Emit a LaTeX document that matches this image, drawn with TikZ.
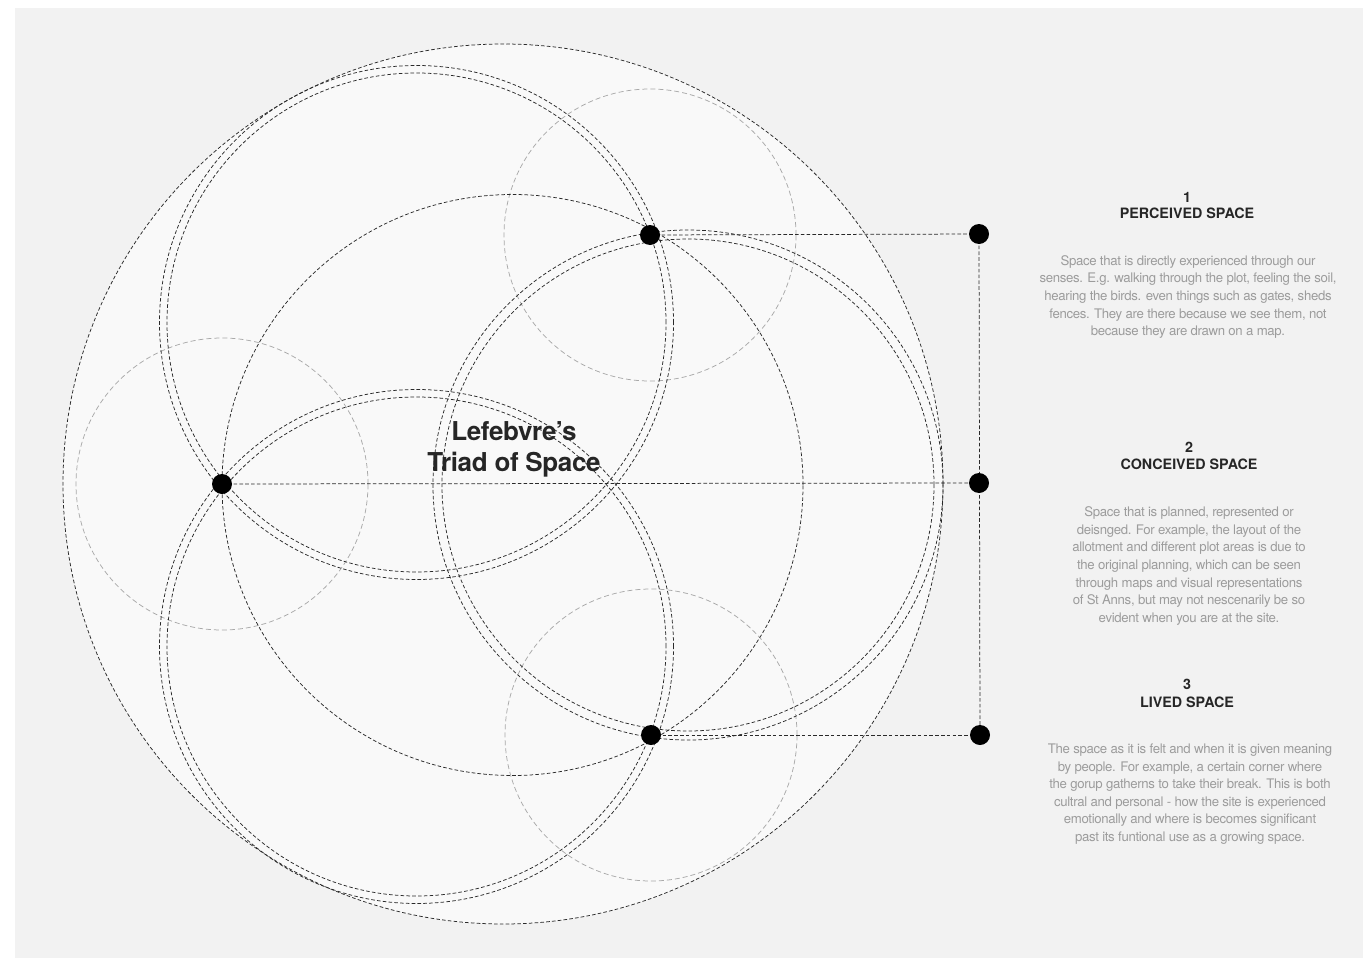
\documentclass[tikz,border=0pt]{standalone}
\usepackage{fontspec}
\setmainfont{TeX Gyre Heros}
\newfontfamily\bodyfont[LetterSpace=-2.5]{TeX Gyre Heros}
\newfontfamily\headfont[LetterSpace=-1.5]{TeX Gyre Heros}
\newfontfamily\capsfont[LetterSpace=0]{TeX Gyre Heros}
\definecolor{panel}{HTML}{F2F2F2}
\definecolor{disc}{HTML}{F9F9F9}
\definecolor{ink}{HTML}{2A2A2A}
\definecolor{faint}{HTML}{A9A9A9}
\definecolor{bodygray}{HTML}{9C9C9C}
\definecolor{headgray}{HTML}{262626}
\tikzset{
  blk/.style={draw=ink, line width=0.75pt, dash pattern=on 3.6pt off 2.2pt},
  gry/.style={draw=faint, line width=0.75pt, dash pattern=on 5pt off 3pt},
  dotnode/.style={circle, fill=black, minimum size=20pt, inner sep=0pt},
  numtxt/.style={font=\capsfont\bfseries\fontsize{14.3}{16}\selectfont, text=headgray, inner sep=0pt},
  bodytxt/.style={font=\bodyfont\fontsize{13.2}{17.6}\selectfont, text=bodygray, align=center, inner sep=0pt},
  titletxt/.style={font=\headfont\bfseries\fontsize{26}{31}\selectfont, text=headgray, align=center, inner sep=0pt}
}
\begin{document}
\begin{tikzpicture}[x=1pt,y=-1pt]
\useasboundingbox (0,0) rectangle (1363,958);
\fill[white] (0,0) rectangle (1363,958);
\fill[panel] (15,8) rectangle (1363,958);
\fill[disc] (503,484) circle[radius=440pt];

% small grey circles round the three points
\draw[gry] (650,235) circle[radius=146pt];
\draw[gry] (222,484) circle[radius=146pt];
\draw[gry] (651,735) circle[radius=146pt];

% outer circle and circle through the three points
\draw[blk] (503,484) circle[radius=440pt];
\draw[blk] (512.5,485) circle[radius=290.5pt];

% double circles, one pair for each side
\draw[blk] (416.5,322.5) circle[radius=249.5pt];
\draw[blk] (416.5,322.5) circle[radius=257pt];
\draw[blk] (416.5,646.5) circle[radius=249.5pt];
\draw[blk] (416.5,646.5) circle[radius=257pt];
\draw[blk] (688,485) circle[radius=246pt];
\draw[blk] (688,485) circle[radius=255pt];

% points
\coordinate (cA) at (650,235);
\coordinate (cB) at (222,484);
\coordinate (cC) at (651,735);
\coordinate (cR1) at (979,234);
\coordinate (cR2) at (979,483);
\coordinate (cR3) at (980,735);
\draw[blk] (cA) -- (cR1);
\draw[blk] (cB) -- (cR2);
\draw[blk] (cC) -- (cR3);
\draw[blk] (cR1) -- (cR3);
\node[dotnode] (pA) at (cA) {};
\node[dotnode] (pB) at (cB) {};
\node[dotnode] (pC) at (cC) {};
\node[dotnode] (r1) at (cR1) {};
\node[dotnode] (r2) at (cR2) {};
\node[dotnode] (r3) at (cR3) {};

% title
\node[titletxt] (title) at (514,449) {Lefebvre’s\\Triad of Space};

% texts
\node[numtxt] (n1) at (1187,197) {1};
\node[numtxt] (h1) at (1187,213) {PERCEIVED SPACE};
\node[bodytxt] (b1) at (1188,297) {Space that is directly experienced through our\\senses. E.g. walking through the plot, feeling the soil,\\hearing the birds. even things such as gates, sheds\\fences. They are there because we see them, not\\because they are drawn on a map.};

\node[numtxt] (n2) at (1189,447) {2};
\node[numtxt] (h2) at (1189,464) {CONCEIVED SPACE};
\node[bodytxt] (b2) at (1189,566) {Space that is planned, represented or\\deisnged. For example, the layout of the\\allotment and different plot areas is due to\\the original planning, which can be seen\\through maps and visual representations\\of St Anns, but may not nescenarily be so\\evident when you are at the site.};

\node[numtxt] (n3) at (1187,684) {3};
\node[numtxt] (h3) at (1187,702) {LIVED SPACE};
\node[bodytxt] (b3) at (1190,794) {The space as it is felt and when it is given meaning\\by people. For example, a certain corner where\\the gorup gatherns to take their break. This is both\\cultral and personal - how the site is experienced\\emotionally and where is becomes significant\\past its funtional use as a growing space.};
\end{tikzpicture}
\end{document}
